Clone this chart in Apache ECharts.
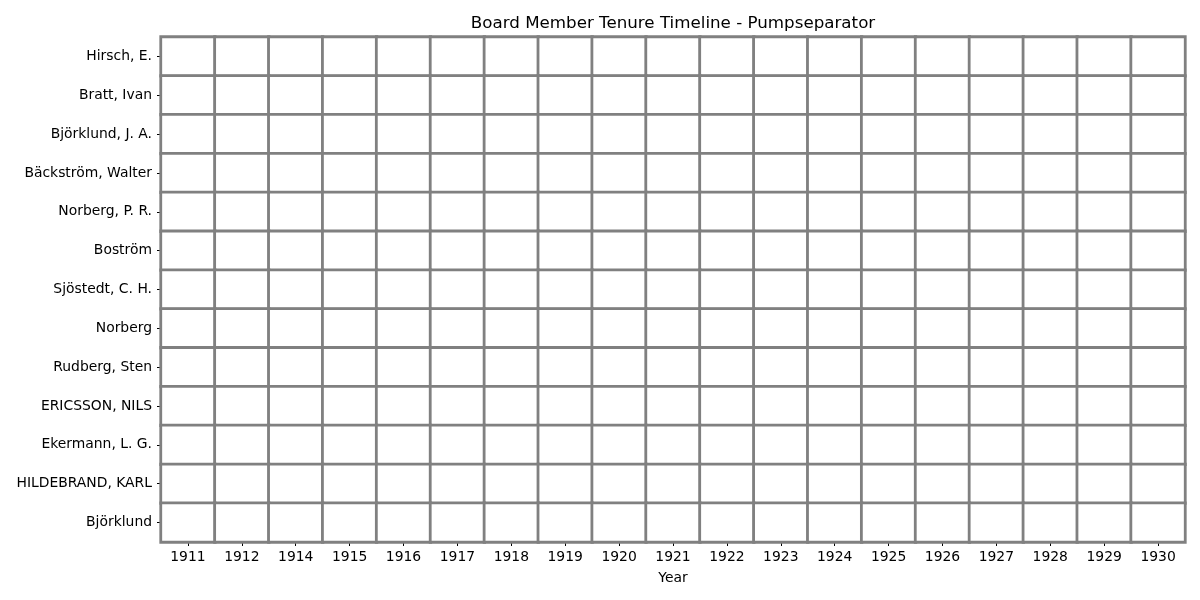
<!DOCTYPE html>
<html>
<head>
<meta charset="utf-8">
<script src="https://cdn.jsdelivr.net/npm/echarts@6/dist/echarts.min.js"></script>
<style>
html,body{margin:0;padding:0;background:#fff;}
#chart{width:1200px;height:600px;}
</style>
</head>
<body>
<div id="chart"></div>
<script>
const years = ['1911','1912','1914','1915','1916','1917','1918','1919','1920','1921','1922','1923','1924','1925','1926','1927','1928','1929','1930'];
const members = ['Hirsch, E.','Bratt, Ivan','Björklund, J. A.','Bäckström, Walter','Norberg, P. R.','Boström','Sjöstedt, C. H.','Norberg','Rudberg, Sten','ERICSSON, NILS','Ekermann, L. G.','HILDEBRAND, KARL','Björklund'];
// tenure flag per member (row) and year (column); all cells read as empty (0) in the reference
const tenure = [
  [0,0,0,0,0,0,0,0,0,0,0,0,0,0,0,0,0,0,0],
  [0,0,0,0,0,0,0,0,0,0,0,0,0,0,0,0,0,0,0],
  [0,0,0,0,0,0,0,0,0,0,0,0,0,0,0,0,0,0,0],
  [0,0,0,0,0,0,0,0,0,0,0,0,0,0,0,0,0,0,0],
  [0,0,0,0,0,0,0,0,0,0,0,0,0,0,0,0,0,0,0],
  [0,0,0,0,0,0,0,0,0,0,0,0,0,0,0,0,0,0,0],
  [0,0,0,0,0,0,0,0,0,0,0,0,0,0,0,0,0,0,0],
  [0,0,0,0,0,0,0,0,0,0,0,0,0,0,0,0,0,0,0],
  [0,0,0,0,0,0,0,0,0,0,0,0,0,0,0,0,0,0,0],
  [0,0,0,0,0,0,0,0,0,0,0,0,0,0,0,0,0,0,0],
  [0,0,0,0,0,0,0,0,0,0,0,0,0,0,0,0,0,0,0],
  [0,0,0,0,0,0,0,0,0,0,0,0,0,0,0,0,0,0,0],
  [0,0,0,0,0,0,0,0,0,0,0,0,0,0,0,0,0,0,0]
];

const data = [];
tenure.forEach((row, i) => row.forEach((v, j) => data.push([j, i, v])));

const font = 'DejaVu Sans';
const chart = echarts.init(document.getElementById('chart'), null, {renderer: 'canvas'});
chart.setOption({
  animation: false,
  backgroundColor: '#fff',
  title: {
    text: 'Board Member Tenure Timeline - Pumpseparator',
    left: 668, top: 10, textAlign: 'center',
    textStyle: {fontFamily: font, fontSize: 16.7, fontWeight: 'normal', color: '#000'}
  },
  grid: {left: 161, right: 15, top: 37, bottom: 58, show: false},
  xAxis: {
    type: 'category', data: years,
    name: 'Year', nameLocation: 'middle', nameGap: 29,
    nameTextStyle: {fontFamily: font, fontSize: 13.9, color: '#000'},
    axisLine: {show: false},
    axisTick: {show: true, alignWithLabel: true, length: 4, lineStyle: {color: '#000', width: 1}},
    axisLabel: {fontFamily: font, fontSize: 13.9, color: '#000', margin: 8, interval: 0},
    splitLine: {show: false}
  },
  yAxis: {
    type: 'category', data: members, inverse: true,
    axisLine: {show: false},
    axisTick: {show: true, alignWithLabel: true, length: 4, lineStyle: {color: '#000', width: 1}},
    axisLabel: {fontFamily: font, fontSize: 13.9, color: '#000', margin: 9, interval: 0},
    splitLine: {show: false}
  },
  visualMap: {
    show: false, min: 0, max: 1, dimension: 2,
    inRange: {color: ['#ffffff', '#ffffff']}
  },
  series: [{
    type: 'heatmap',
    data: data,
    itemStyle: {borderColor: '#808080', borderWidth: 2.8},
    emphasis: {disabled: true}
  }]
});
</script>
</body>
</html>
